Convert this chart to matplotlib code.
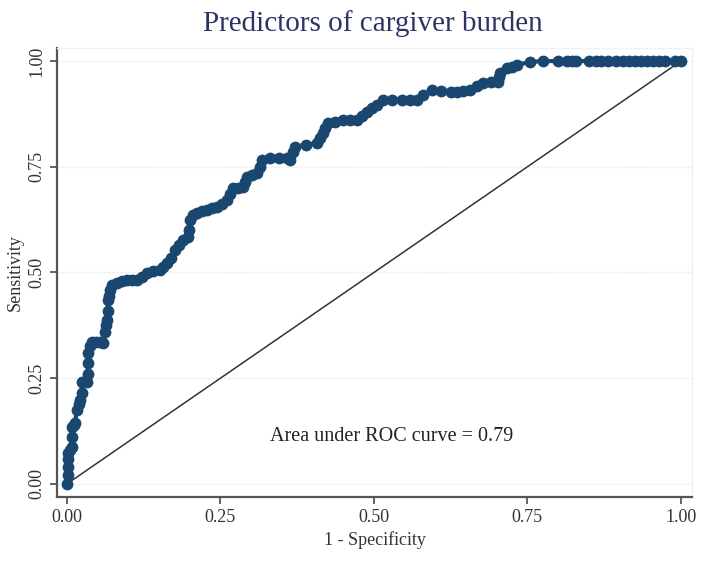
import matplotlib
matplotlib.use("Agg")
import matplotlib.pyplot as plt

# --- data ---
fpr = [0.000, 0.001, 0.002, 0.002, 0.002, 0.005, 0.008, 0.008, 0.008, 0.011, 0.013,
       0.016, 0.019, 0.021, 0.024, 0.024, 0.028, 0.033, 0.034, 0.034, 0.034, 0.038,
       0.041, 0.047, 0.053, 0.059, 0.062, 0.063, 0.065, 0.066, 0.067, 0.069, 0.070,
       0.074, 0.081, 0.089, 0.098, 0.106, 0.114, 0.122, 0.130, 0.140, 0.151, 0.157,
       0.163, 0.170, 0.176, 0.183, 0.189, 0.197, 0.199, 0.200, 0.206, 0.212, 0.220,
       0.228, 0.236, 0.244, 0.252, 0.261, 0.266, 0.270, 0.279, 0.287, 0.290, 0.293,
       0.301, 0.309, 0.314, 0.318, 0.331, 0.345, 0.358, 0.363, 0.368, 0.371, 0.389,
       0.407, 0.412, 0.417, 0.421, 0.425, 0.437, 0.450, 0.461, 0.472, 0.480, 0.489,
       0.497, 0.505, 0.515, 0.530, 0.545, 0.558, 0.570, 0.580, 0.594, 0.610, 0.625,
       0.635, 0.645, 0.656, 0.668, 0.678, 0.690, 0.702, 0.704, 0.705, 0.717, 0.725,
       0.733, 0.754, 0.775, 0.800, 0.815, 0.822, 0.830, 0.850, 0.862, 0.870, 0.882,
       0.895, 0.905, 0.915, 0.925, 0.935, 0.945, 0.955, 0.965, 0.975, 0.990, 1.000]
tpr = [0.000, 0.020, 0.040, 0.060, 0.073, 0.080, 0.087, 0.110, 0.135, 0.140, 0.144,
       0.175, 0.188, 0.199, 0.215, 0.241, 0.241, 0.241, 0.260, 0.285, 0.310, 0.325,
       0.336, 0.336, 0.335, 0.333, 0.359, 0.375, 0.388, 0.410, 0.435, 0.445, 0.459,
       0.470, 0.475, 0.480, 0.482, 0.482, 0.482, 0.490, 0.499, 0.503, 0.506, 0.512,
       0.522, 0.535, 0.553, 0.565, 0.577, 0.584, 0.600, 0.624, 0.635, 0.641, 0.645,
       0.648, 0.652, 0.655, 0.662, 0.671, 0.685, 0.700, 0.700, 0.702, 0.715, 0.726,
       0.730, 0.735, 0.750, 0.766, 0.771, 0.771, 0.771, 0.766, 0.785, 0.797, 0.802,
       0.806, 0.818, 0.830, 0.842, 0.853, 0.857, 0.861, 0.861, 0.861, 0.870, 0.879,
       0.888, 0.896, 0.908, 0.908, 0.908, 0.908, 0.908, 0.920, 0.931, 0.929, 0.927,
       0.927, 0.929, 0.931, 0.940, 0.948, 0.950, 0.950, 0.962, 0.972, 0.983, 0.987,
       0.991, 0.998, 1.000, 1.000, 1.000, 1.000, 1.000, 1.000, 1.000, 1.000, 1.000,
       1.000, 1.000, 1.000, 1.000, 1.000, 1.000, 1.000, 1.000, 1.000, 1.000, 1.000]
auc_text = "Area under ROC curve = 0.79"
ticks = [0.00, 0.25, 0.50, 0.75, 1.00]
tick_labels = ["0.00", "0.25", "0.50", "0.75", "1.00"]

navy = "#1a476f"
serif = "Liberation Serif"

fig = plt.figure(figsize=(7.01, 5.62), dpi=100)
ax = fig.add_axes([0.0813, 0.1157, 0.9057, 0.7989])

# reference diagonal
ax.plot([0, 1], [0, 1], color="#333333", linewidth=1.1, zorder=2)
# ROC curve
ax.plot(fpr, tpr, color=navy, linewidth=3, marker="o", markersize=8.5,
        markeredgewidth=0, zorder=3)

ax.set_xlim(-0.0163, 1.018)
ax.set_ylim(-0.031, 1.031)
ax.set_xticks(ticks)
ax.set_xticklabels(tick_labels, fontfamily=serif, fontsize=13)
ax.set_yticks(ticks)
ax.set_yticklabels(tick_labels, fontfamily=serif, fontsize=13, rotation=90, va="center")
ax.tick_params(direction="out", length=5, width=1.3, color="#555555", labelcolor="#333333")

ax.grid(axis="y", color="#e8eef2", linewidth=1.0, linestyle=(0, (2, 1)))
ax.set_axisbelow(True)

for side in ["left", "bottom"]:
    ax.spines[side].set_color("#555555")
    ax.spines[side].set_linewidth(1.6)
for side in ["top", "right"]:
    ax.spines[side].set_color("#eef2f5")
    ax.spines[side].set_linewidth(1.0)

ax.text(0.33, 0.111, auc_text, fontfamily=serif, fontsize=14.5, color="#222222",
        va="center", ha="left")

ax.set_xlabel("1 - Specificity", fontfamily=serif, fontsize=13, color="#333333", labelpad=4)
ax.set_ylabel("Sensitivity", fontfamily=serif, fontsize=13, color="#333333", labelpad=3)
fig.text(0.532, 0.958, "Predictors of cargiver burden", fontfamily=serif, fontsize=21,
         color="#2a3566", ha="center", va="center")

fig.savefig("out.png", dpi=100, facecolor="white")
